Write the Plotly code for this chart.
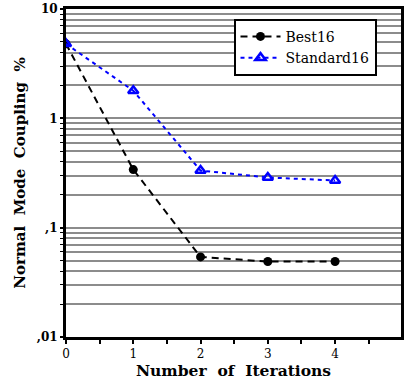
import plotly.graph_objects as go

iterations = [0, 1, 2, 3, 4]
best16 = [4.8, 0.34, 0.054, 0.049, 0.049]
standard16 = [4.8, 1.79, 0.333, 0.288, 0.27]

y_tickvals = [0.01, 0.1, 1, 10]
y_ticktext = [",01", ",1", "1", "10"]
x_tickvals = [0, 1, 2, 3, 4, 5]
x_ticktext = ["0", "1", "2", "3", "4", "5"]

minor_vals = [m * d for d in (0.01, 0.1, 1) for m in range(2, 10)]

FONT = "DejaVu Serif"

fig = go.Figure()
fig.add_trace(go.Scatter(
    x=iterations, y=best16, name="Best16", mode="lines+markers",
    line=dict(color="black", width=2, dash="7px,5px"),
    marker=dict(symbol="circle", size=9, color="black"),
))
fig.add_trace(go.Scatter(
    x=iterations, y=standard16, name="Standard16", mode="lines+markers",
    line=dict(color="#0000ff", width=2, dash="4px,4px"),
    marker=dict(symbol="triangle-up-open", size=9, color="#0000ff", line=dict(width=2.5, color="#0000ff")),
))

fig.update_layout(
    width=406, height=385,
    margin=dict(l=66, r=2, t=7, b=48),
    plot_bgcolor="white", paper_bgcolor="white",
    font=dict(family=FONT, size=13, color="black"),
    showlegend=True,
    legend=dict(
        x=0.5, y=0.97, xanchor="left", yanchor="top",
        bgcolor="white", bordercolor="black", borderwidth=2,
        font=dict(family=FONT, size=14, color="black"),
        tracegroupgap=0, itemwidth=40,
    ),
    xaxis=dict(
        range=[0, 4.98], tickmode="array", tickvals=x_tickvals, ticktext=x_ticktext,
        ticks="outside", ticklen=4, tickwidth=2, tickcolor="black",
        showline=True, linecolor="black", linewidth=3, mirror=True,
        showgrid=False, zeroline=False,
        minor=dict(tickvals=[0.5, 1.5, 2.5, 3.5, 4.5], ticks="outside", ticklen=4, tickwidth=2, tickcolor="black"),
        title=dict(text="<b>Number  of  Iterations</b>", font=dict(family=FONT, size=15.5), standoff=3),
        tickfont=dict(family=FONT, size=12),
    ),
    yaxis=dict(
        type="log", range=[-2, 1.0002],
        tickmode="array", tickvals=y_tickvals, ticktext=y_ticktext,
        ticks="outside", ticklen=3, tickwidth=2, tickcolor="black",
        ticklabeloverflow="allow",
        showline=True, linecolor="black", linewidth=3, mirror=True,
        showgrid=True, gridcolor="#8c8c8c", gridwidth=2, zeroline=False,
        minor=dict(tickvals=minor_vals, ticks="outside", ticklen=3, tickwidth=1, tickcolor="black",
                   showgrid=True, gridcolor="#8c8c8c", gridwidth=2),
        title=dict(text="<b>Normal  Mode  Coupling  %</b>", font=dict(family=FONT, size=15), standoff=8),
        tickfont=dict(family=FONT, size=12, weight="bold"),
    ),
)

fig.write_html("out.html")
